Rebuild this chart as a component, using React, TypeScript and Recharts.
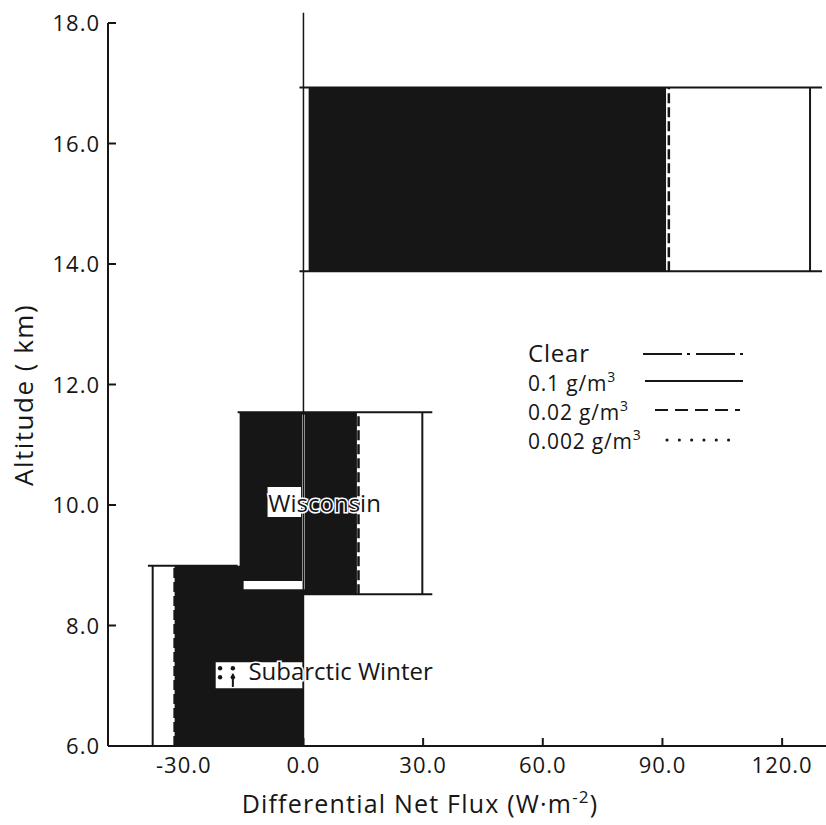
import React from 'react';
import {
  ComposedChart,
  XAxis,
  YAxis,
  Scatter,
  ReferenceArea,
  ReferenceLine,
  ReferenceDot,
  Legend,
  Label,
} from 'recharts';

const FONT = '"Open Sans", "DejaVu Sans", sans-serif';
const INK = '#161616';

// cloud layers of the three model atmospheres (km)
const profileNames = ['Tropical', 'Wisconsin', 'Subarctic Winter'];
const cloudBase = [13.88, 8.52, 6.0];
const cloudTop = [16.93, 11.54, 8.99];

// span of the horizontal cloud boundary lines (W m-2)
const edgeFrom = [-1, -16.5, -39];
const edgeTo = [130, 32.3, -16.5];

// differential net flux per ice water content (W m-2)
const flux01 = [127, 29.8, -37.8];
const flux002 = [91.6, 13.8, -32.3];

// shaded flux range inside each layer
const shadeFrom = [1.3, -16, -32.3];
const shadeTo = [90.9, 13.4, 0];

// white breaks in the shading
const gapFrom = [-9.0, -0.3, -15.0, -22.0];
const gapTo = [-0.6, 0.3, -0.3, -0.25];
const gapLow = [9.8, 8.6, 8.6, 6.96];
const gapHigh = [10.3, 11.5, 8.74, 7.39];

// layer names written on the plot
const tagText = ['Wisconsin', 'Subarctic Winter'];
const tagX = [-8.8, -13.8];
const tagY = [9.88, 7.1];

// 0.002 g/m3 dots left of the subarctic label
const dotFlux = [-20.9, -20.9, -17.7, -17.7];
const dotAlt = [7.29, 7.14, 7.29, 7.14];

const xTicks = [-30, 0, 30, 60, 90, 120];
const yTicks = [6, 8, 10, 12, 14, 16, 18];

const legendLabels = ['Clear', '0.1 g/m', '0.02 g/m', '0.002 g/m'];
const legendSup = ['', '3', '3', '3'];
const legendDash = ['39 5 3 6', '', '13 7', '0.1 12.2'];

const dotPoints = dotFlux.map((f, i) => ({ flux: f, alt: dotAlt[i] }));

function XTick(props: any) {
  const { x, y, payload } = props;
  return (
    <g>
      <line x1={x} x2={x} y1={y} y2={y - 8} stroke={INK} strokeWidth={2} />
      <text x={x} y={y + 27} textAnchor="middle" fontFamily={FONT} fontSize={22} letterSpacing={1} fill={INK}>
        {payload.value.toFixed(1)}
      </text>
    </g>
  );
}

function YTick(props: any) {
  const { x, y, payload } = props;
  return (
    <g>
      <line x1={x} x2={x + 8} y1={y} y2={y} stroke={INK} strokeWidth={2} />
      <text x={x - 8} y={y + 8} textAnchor="end" fontFamily={FONT} fontSize={22} letterSpacing={1} fill={INK}>
        {payload.value.toFixed(1)}
      </text>
    </g>
  );
}

function XTitle() {
  return (
    <text x={420} y={813} textAnchor="middle" fontFamily={FONT} fontSize={25} letterSpacing={1.2} fill={INK}>
      Differential Net Flux (W·m
      <tspan fontSize={17} dy={-10}>-2</tspan>
      <tspan dy={10}>)</tspan>
    </text>
  );
}

function YTitle() {
  return (
    <text
      transform="translate(33,395) rotate(-90)"
      textAnchor="middle"
      fontFamily={FONT}
      fontSize={26}
      letterSpacing={1.5}
      fill={INK}
    >
      Altitude ( km)
    </text>
  );
}

function TagLabel(props: any) {
  const { viewBox, value } = props;
  return (
    <text
      x={viewBox.x}
      y={viewBox.y}
      fontFamily={FONT}
      fontSize={24}
      fill={INK}
      stroke="#fff"
      strokeWidth={3}
      paintOrder="stroke"
    >
      {value}
    </text>
  );
}

function SmallDot(props: any) {
  return <circle cx={props.cx} cy={props.cy} r={2.2} fill={INK} />;
}

function CloudLegend() {
  const rowY = [32, 61, 90, 119];
  const lineY = [24, 51, 80, 110];
  const lineX1 = [123, 125, 135, 147];
  const lineX2 = [225, 223, 220, 216];
  return (
    <svg width={240} height={130}>
      {legendLabels.map((name, i) => (
        <g key={name}>
          <text x={8} y={rowY[i]} fontFamily={FONT} fontSize={i === 0 ? 24 : 21} letterSpacing={0.8} fill={INK}>
            {name}
            {legendSup[i] && (
              <tspan fontSize={14} dy={-9}>
                {legendSup[i]}
              </tspan>
            )}
          </text>
          <line
            x1={lineX1[i]}
            x2={lineX2[i]}
            y1={lineY[i]}
            y2={lineY[i]}
            stroke={INK}
            strokeWidth={i === 3 ? 3 : 2}
            strokeLinecap={i === 3 ? 'round' : 'butt'}
            strokeDasharray={legendDash[i] || undefined}
          />
        </g>
      ))}
    </svg>
  );
}

export default function App() {
  return (
    <div style={{ position: 'absolute', left: 0, top: 0, width: 826, height: 825, background: '#fff' }}>
      <ComposedChart width={826} height={825} margin={{ top: 23, right: 0, bottom: 0, left: 0 }}>
        <XAxis
          type="number"
          dataKey="flux"
          domain={[-49, 131]}
          ticks={xTicks}
          interval={0}
          allowDataOverflow
          height={79}
          tickSize={0}
          tickMargin={0}
          tickLine={false}
          axisLine={{ stroke: INK, strokeWidth: 2 }}
          tick={<XTick />}
        >
          <Label content={<XTitle />} />
        </XAxis>
        <YAxis
          type="number"
          dataKey="alt"
          domain={[6, 18]}
          ticks={yTicks}
          interval={0}
          allowDataOverflow
          width={108}
          tickSize={0}
          tickMargin={0}
          tickLine={false}
          axisLine={{ stroke: INK, strokeWidth: 2 }}
          tick={<YTick />}
        >
          <Label content={<YTitle />} />
        </YAxis>

        {/* zero flux line */}
        <ReferenceLine
          segment={[{ x: 0, y: 6 }, { x: 0, y: 18.17 }]}
          stroke={INK}
          strokeWidth={1.5}
          ifOverflow="visible"
        />

        {/* shaded flux bands */}
        {profileNames.map((name, i) => (
          <ReferenceArea
            key={`shade-${name}`}
            x1={shadeFrom[i]}
            x2={shadeTo[i]}
            y1={cloudBase[i]}
            y2={cloudTop[i]}
            fill={INK}
            fillOpacity={1}
            stroke="none"
          />
        ))}

        {gapFrom.map((g, i) => (
          <ReferenceArea
            key={`gap-${i}`}
            x1={g}
            x2={gapTo[i]}
            y1={gapLow[i]}
            y2={gapHigh[i]}
            fill="#fff"
            fillOpacity={1}
            stroke="none"
          />
        ))}

        {/* cloud base and top */}
        {profileNames.map((name, i) => (
          <ReferenceLine
            key={`top-${name}`}
            segment={[{ x: edgeFrom[i], y: cloudTop[i] }, { x: edgeTo[i], y: cloudTop[i] }]}
            stroke={INK}
            strokeWidth={2}
          />
        ))}
        {profileNames.map((name, i) => (
          <ReferenceLine
            key={`base-${name}`}
            segment={[{ x: edgeFrom[i], y: cloudBase[i] }, { x: edgeTo[i], y: cloudBase[i] }]}
            stroke={INK}
            strokeWidth={2}
          />
        ))}

        {/* 0.1 g/m3 */}
        {profileNames.map((name, i) => (
          <ReferenceLine
            key={`f01-${name}`}
            segment={[{ x: flux01[i], y: cloudBase[i] }, { x: flux01[i], y: cloudTop[i] }]}
            stroke={INK}
            strokeWidth={2}
          />
        ))}

        {/* 0.02 g/m3 */}
        {profileNames.map((name, i) => (
          <ReferenceLine
            key={`f002-${name}`}
            segment={[{ x: flux002[i], y: cloudBase[i] }, { x: flux002[i], y: cloudTop[i] }]}
            stroke={INK}
            strokeWidth={2.5}
            strokeDasharray="10 4"
          />
        ))}

        {/* 0.002 g/m3 dots */}
        <Scatter data={dotPoints} fill={INK} shape={<SmallDot />} isAnimationActive={false} legendType="none" />
        <ReferenceLine
          segment={[{ x: dotFlux[2], y: 6.98 }, { x: dotFlux[2], y: 7.2 }]}
          stroke={INK}
          strokeWidth={2}
        />

        {tagText.map((t, i) => (
          <ReferenceDot
            key={t}
            x={tagX[i]}
            y={tagY[i]}
            r={0}
            fill="none"
            stroke="none"
            label={<TagLabel value={t} />}
          />
        ))}

        <Legend
          layout="horizontal"
          verticalAlign="middle"
          align="center"
          wrapperStyle={{ left: 520, top: 330, width: 240, height: 130 }}
          content={() => <CloudLegend />}
        />
      </ComposedChart>
    </div>
  );
}
